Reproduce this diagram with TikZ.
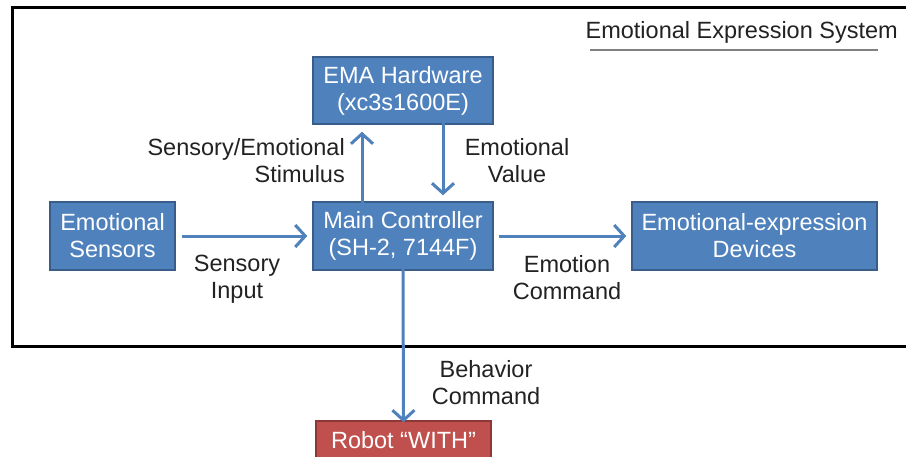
\documentclass[tikz,border=0pt]{standalone}
\usepackage{fontspec}
\setmainfont{Liberation Sans}
\usetikzlibrary{arrows.meta}
\definecolor{boxblue}{HTML}{4F81BD}
\definecolor{boxedge}{HTML}{385D8A}
\definecolor{boxred}{HTML}{C0504D}
\definecolor{rededge}{HTML}{8C3836}
\definecolor{txt}{HTML}{222222}
\tikzset{
  blk/.style={draw=boxedge, line width=1.5pt, fill=boxblue, text=white,
    align=center, font=\fontsize{23.5}{27}\selectfont, inner sep=0pt},
  redblk/.style={blk, draw=rededge, fill=boxred},
  lbl/.style={text=txt, align=center, font=\fontsize{23.5}{27}\selectfont, inner sep=0pt},
  flow/.style={draw=boxblue, line width=3pt,
    -{Straight Barb[length=10pt,width=22pt,line width=3pt]}},
}
\begin{document}
\begin{tikzpicture}[x=1pt,y=-1pt]
  \useasboundingbox (0,0) rectangle (906,456);
  \clip (0,0) rectangle (906,456);
  \fill[white] (0,0) rectangle (906,456);
  % system frame, open to the right
  \draw[line width=3pt] (930,7) -- (12,7) -- (12,346) -- (930,346);
  % title
  \node[lbl, anchor=east] (title) at (898,32) {Emotional Expression System};
  \draw[line width=2pt, draw=gray] (590,50) -- (878,50);
  % blocks
  \node[blk, minimum width=180pt, minimum height=67pt] (ema) at (403,90.5) {EMA Hardware\\(xc3s1600E)};
  \node[blk, minimum width=180pt, minimum height=68pt] (main) at (403,236) {Main Controller\\(SH-2, 7144F)};
  \node[blk, minimum width=125pt, minimum height=68pt] (sens) at (112.5,236) {Emotional\\Sensors};
  \node[blk, minimum width=245pt, minimum height=68pt] (dev) at (754.5,236) {Emotional-expression\\Devices};
  \node[redblk, minimum width=175pt, minimum height=60pt] (robot) at (403.5,451) {};
  \node[lbl, text=white, anchor=base] (robotlbl) at (403.5,448) {Robot “WITH”};
  % connections
  \draw[flow] ([xshift=-41pt,yshift=-4pt]main.north) -- ([xshift=-41pt,yshift=-7pt]ema.south);
  \draw[flow] ([xshift=40pt,yshift=6pt]ema.south) -- ([xshift=40pt,yshift=6pt]main.north);
  \draw[flow] ([xshift=6pt]sens.east) -- ([xshift=-5pt]main.west);
  \draw[flow] ([xshift=5pt]main.east) -- ([xshift=-5pt]dev.west);
  \draw[flow] ([yshift=2pt]main.south) -- ([yshift=-2pt]robot.north);
  % flow labels
  \node[lbl, align=right, anchor=east] (stim) at (345,161) {Sensory/Emotional\\Stimulus};
  \node[lbl] (val) at (517,161) {Emotional\\Value};
  \node[lbl] (inp) at (237,279) {Sensory\\Input};
  \node[lbl] (cmd) at (567,278) {Emotion\\Command};
  \node[lbl] (beh) at (486,383) {Behavior\\Command};
\end{tikzpicture}
\end{document}
